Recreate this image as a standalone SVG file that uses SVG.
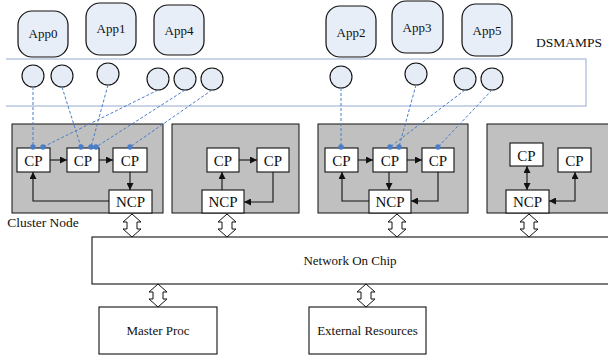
<svg xmlns="http://www.w3.org/2000/svg" width="608" height="358" viewBox="0 0 608 358">
<style>
text{font-family:"Liberation Serif","Times New Roman",serif;fill:#111;text-anchor:middle}
.app{fill:#e8eef8;stroke:#111;stroke-width:1.2}
.port{fill:#e6ecf6;stroke:#111;stroke-width:1.1}
.cl{fill:#c0c0c0;stroke:#111;stroke-width:1}
.bx{fill:#fff;stroke:#111;stroke-width:1.1}
.ln{fill:none;stroke:#111;stroke-width:1.1}
.dl{fill:none;stroke:#4a7cc8;stroke-width:1;stroke-dasharray:3 2}
.dot{fill:#4a7cc8}
.da{fill:#fff;stroke:#111;stroke-width:1}
.t13{font-size:13px}
.t15{font-size:15px}
</style>
<defs>
<marker id="ah" viewBox="0 0 10 10" refX="10" refY="5" markerWidth="7" markerHeight="7" markerUnits="userSpaceOnUse" orient="auto-start-reverse">
<path d="M0,0 L10,5 L0,10 Z" fill="#111"/>
</marker>
</defs>

<!-- DSMAMPS band -->
<g id="dsmamps">
<path d="M6,59 H586 V106 H6" fill="none" stroke="#b8c8e0" stroke-width="1.5"/>
<text x="569" y="47" class="t13" style="font-size:13.5px">DSMAMPS</text>
</g>

<!-- Apps -->
<g id="app0"><rect class="app" x="18" y="11" width="50" height="46" rx="14"/><text x="43" y="38" class="t13">App0</text></g>
<g id="app1"><rect class="app" x="86" y="3" width="50" height="52" rx="14"/><text x="111" y="33" class="t13">App1</text></g>
<g id="app4"><rect class="app" x="154" y="5" width="50" height="50" rx="14"/><text x="179" y="35" class="t13">App4</text></g>
<g id="app2"><rect class="app" x="326" y="6" width="50" height="51" rx="14"/><text x="351" y="37" class="t13">App2</text></g>
<g id="app3"><rect class="app" x="392" y="1" width="51" height="52" rx="14"/><text x="417" y="32" class="t13">App3</text></g>
<g id="app5"><rect class="app" x="462" y="4" width="50" height="52" rx="14"/><text x="487" y="35" class="t13">App5</text></g>

<!-- Ports -->
<g id="ports">
<circle class="port" cx="33" cy="76" r="11"/>
<circle class="port" cx="62" cy="76" r="11"/>
<circle class="port" cx="108" cy="74" r="11"/>
<circle class="port" cx="158" cy="79" r="11"/>
<circle class="port" cx="185" cy="79" r="11"/>
<circle class="port" cx="212" cy="79" r="11"/>
<circle class="port" cx="341" cy="77" r="11"/>
<circle class="port" cx="416" cy="74" r="11"/>
<circle class="port" cx="465" cy="79" r="11"/>
<circle class="port" cx="492" cy="79" r="11"/>
</g>

<!-- Cluster 1 -->
<g id="cluster1">
<rect class="cl" x="12" y="124" width="151" height="89"/>
<rect class="bx" x="17" y="148" width="33" height="24"/><text x="33.5" y="166" class="t15">CP</text>
<rect class="bx" x="67" y="148" width="32" height="24"/><text x="83" y="166" class="t15">CP</text>
<rect class="bx" x="113" y="148" width="34" height="24"/><text x="130" y="166" class="t15">CP</text>
<rect class="bx" x="109" y="190" width="43" height="23"/><text x="130.5" y="207" class="t15">NCP</text>
</g>
<text x="43" y="227" style="font-size:13.5px">Cluster Node</text>

<!-- Cluster 2 -->
<g id="cluster2">
<rect class="cl" x="172" y="124" width="127" height="89"/>
<rect class="bx" x="207" y="148" width="32" height="24"/><text x="223" y="166" class="t15">CP</text>
<rect class="bx" x="257" y="148" width="32" height="24"/><text x="273" y="166" class="t15">CP</text>
<rect class="bx" x="202" y="190" width="42" height="23"/><text x="223" y="207" class="t15">NCP</text>
</g>

<!-- Cluster 3 -->
<g id="cluster3">
<rect class="cl" x="318" y="124" width="150" height="89"/>
<rect class="bx" x="325" y="148" width="33" height="24"/><text x="341.5" y="166" class="t15">CP</text>
<rect class="bx" x="373" y="148" width="34" height="24"/><text x="390" y="166" class="t15">CP</text>
<rect class="bx" x="422" y="148" width="32" height="24"/><text x="438" y="166" class="t15">CP</text>
<rect class="bx" x="369" y="190" width="42" height="23"/><text x="390" y="207" class="t15">NCP</text>
</g>

<!-- Cluster 4 -->
<g id="cluster4">
<rect class="cl" x="487" y="124" width="130" height="89"/>
<rect class="bx" x="510" y="143" width="33" height="23"/><text x="526.5" y="161" class="t15">CP</text>
<rect class="bx" x="558" y="148" width="33" height="24"/><text x="574.5" y="166" class="t15">CP</text>
<rect class="bx" x="506" y="190" width="43" height="23"/><text x="527.5" y="207" class="t15">NCP</text>
</g>

<!-- NoC and others -->
<g id="noc"><rect class="bx" x="92" y="237" width="530" height="47"/><text x="350" y="265" class="t13">Network On Chip</text></g>
<g id="master"><rect class="bx" x="99" y="307" width="118" height="47"/><text x="158" y="335" class="t13">Master Proc</text></g>
<g id="ext"><rect class="bx" x="309" y="307" width="117" height="47"/><text x="367.5" y="335" class="t13">External Resources</text></g>

<!-- Connectors -->
<g id="connectors">
<!-- cluster 1 -->
<path class="ln" d="M50,160 H67" marker-end="url(#ah)"/>
<path class="ln" d="M99,160 H113" marker-end="url(#ah)"/>
<path class="ln" d="M130,172 V190" marker-end="url(#ah)"/>
<path class="ln" d="M109,201 H33 V172" marker-end="url(#ah)"/>
<!-- cluster 2 -->
<path class="ln" d="M239,160 H257" marker-end="url(#ah)"/>
<path class="ln" d="M273,172 V202 H244" marker-end="url(#ah)"/>
<path class="ln" d="M222,190 V172" marker-end="url(#ah)"/>
<!-- cluster 3 -->
<path class="ln" d="M358,160 H373" marker-end="url(#ah)"/>
<path class="ln" d="M407,160 H422" marker-end="url(#ah)"/>
<path class="ln" d="M389,172 V190" marker-end="url(#ah)"/>
<path class="ln" d="M438,172 V201 H411" marker-end="url(#ah)"/>
<path class="ln" d="M369,201 H342 V172" marker-end="url(#ah)"/>
<!-- cluster 4 -->
<path class="ln" d="M527,166 V190" marker-start="url(#ah)" marker-end="url(#ah)"/>
<path class="ln" d="M549,201 H575 V172" marker-start="url(#ah)" marker-end="url(#ah)"/>

<!-- blue dashed links -->
<path class="dl" d="M33,87 V147"/>
<path class="dl" d="M158,90 L43,147"/>
<path class="dl" d="M62,87 L81,147"/>
<path class="dl" d="M108,85 L91,147"/>
<path class="dl" d="M185,90 L96,147"/>
<path class="dl" d="M212,90 L130,147"/>
<path class="dl" d="M341,88 V147"/>
<path class="dl" d="M416,85 L399,147"/>
<path class="dl" d="M465,90 L390,147"/>
<path class="dl" d="M492,90 L438,147"/>
<circle class="dot" cx="33" cy="147" r="2.7"/>
<circle class="dot" cx="43" cy="147" r="2.7"/>
<circle class="dot" cx="81" cy="147" r="2.7"/>
<circle class="dot" cx="91" cy="147" r="2.7"/>
<circle class="dot" cx="96" cy="147" r="2.7"/>
<circle class="dot" cx="130" cy="147" r="2.7"/>
<circle class="dot" cx="341" cy="147" r="2.7"/>
<circle class="dot" cx="390" cy="147" r="2.7"/>
<circle class="dot" cx="399" cy="147" r="2.7"/>
<circle class="dot" cx="438" cy="147" r="2.7"/>

<!-- hollow double arrows -->
<path class="da" d="M132,214 L141,222 L137,222 L137,229 L141,229 L132,237 L123,229 L127,229 L127,222 L123,222 Z"/>
<path class="da" d="M227,214 L236,222 L232,222 L232,229 L236,229 L227,237 L218,229 L222,229 L222,222 L218,222 Z"/>
<path class="da" d="M397,214 L406,222 L402,222 L402,229 L406,229 L397,237 L388,229 L392,229 L392,222 L388,222 Z"/>
<path class="da" d="M529,214 L538,222 L534,222 L534,229 L538,229 L529,237 L520,229 L524,229 L524,222 L520,222 Z"/>
<path class="da" d="M158,284 L167,292 L163,292 L163,299 L167,299 L158,307 L149,299 L153,299 L153,292 L149,292 Z"/>
<path class="da" d="M366,284 L375,292 L371,292 L371,299 L375,299 L366,307 L357,299 L361,299 L361,292 L357,292 Z"/>
</g>
</svg>
